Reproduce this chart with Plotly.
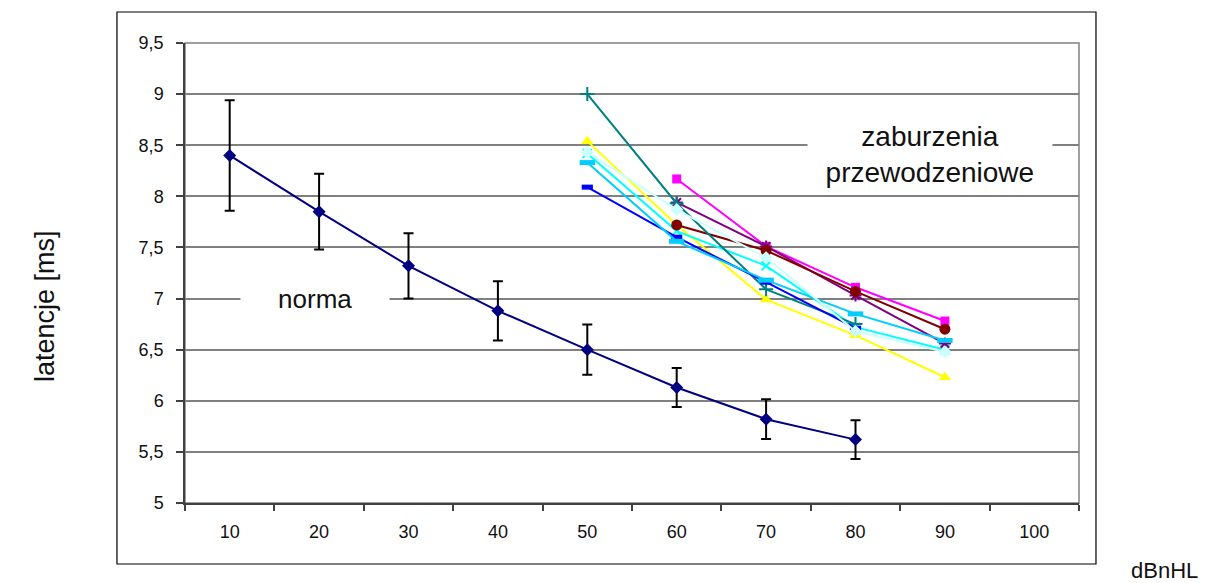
import plotly.graph_objects as go

# ---- data ----
x_norma = [10, 20, 30, 40, 50, 60, 70, 80]
y_norma = [8.40, 7.85, 7.32, 6.88, 6.50, 6.13, 5.82, 5.62]
sd_norma = [0.54, 0.37, 0.32, 0.29, 0.245, 0.19, 0.195, 0.19]

x_50_90 = [50, 60, 70, 80, 90]
x_60_90 = [60, 70, 80, 90]
x_50_80 = [50, 60, 70, 80]

y_magenta = [8.17, 7.51, 7.11, 6.78]
y_yellow = [8.54, 7.72, 6.99, 6.64, 6.23]
y_cyan = [8.42, 7.66, 7.32, 6.72, 6.50]
y_purple = [7.94, 7.51, 7.03, 6.56]
y_maroon = [7.72, 7.47, 7.07, 6.70]
y_teal = [9.00, 7.93, 7.09, 6.75]
y_blue = [8.09, 7.60, 7.16, 6.71]
y_skyblue = [8.33, 7.56, 7.18, 6.85, 6.59]
y_lightcyan = [8.43, 7.87, 7.40, 6.68, 6.48]

x_ticks = [10, 20, 30, 40, 50, 60, 70, 80, 90, 100]
x_bounds = [5, 15, 25, 35, 45, 55, 65, 75, 85, 95, 105]
y_ticks = [5, 5.5, 6, 6.5, 7, 7.5, 8, 8.5, 9, 9.5]

FONT = "Arial, Liberation Sans, sans-serif"
NB = "\u00a0"

fig = go.Figure()

fig.add_trace(go.Scatter(
    x=x_norma, y=y_norma, mode="lines+markers",
    line=dict(color="#000080", width=2),
    marker=dict(symbol="diamond", size=10, color="#000080"),
    error_y=dict(type="data", array=sd_norma, color="black", thickness=2, width=5),
))

def add(x, y, color, symbol, size, open_line=None):
    if open_line:
        marker = dict(symbol=symbol, size=size, color=color,
                      line=dict(color=color, width=open_line))
    else:
        marker = dict(symbol=symbol, size=size, color=color, line=dict(width=0))
    fig.add_trace(go.Scatter(x=x, y=y, mode="lines+markers",
                             line=dict(color=color, width=2), marker=marker))

add(x_60_90, y_magenta, "#FF00FF", "square", 9)
add(x_50_90, y_yellow, "#FFFF00", "triangle-up", 11)
add(x_50_90, y_cyan, "#00FFFF", "x-thin-open", 9, 2)
add(x_60_90, y_purple, "#800080", "asterisk-open", 10, 2)
add(x_60_90, y_maroon, "#800000", "circle", 11)
add(x_50_80, y_teal, "#008080", "cross-thin-open", 10, 2)
add(x_50_80, y_blue, "#0000FF", "line-ew-open", 8, 5)
add(x_50_90, y_skyblue, "#00CCFF", "line-ew-open", 11, 5)
add(x_50_90, y_lightcyan, "#CCFFFF", "diamond", 10)

fig.update_layout(
    width=1216, height=583,
    margin=dict(l=185, r=137, t=43, b=80),
    paper_bgcolor="white", plot_bgcolor="white",
    showlegend=False,
    separators=",.",
    font=dict(family=FONT, size=18, color="#111111"),
    xaxis=dict(
        range=[5, 105], tickmode="array", tickvals=x_ticks,
        ticks="", showgrid=False, zeroline=False,
        showline=True, linecolor="#404040", linewidth=1.5,
        tickfont=dict(size=18, family=FONT),
        ticklabelstandoff=12,
        minor=dict(tickmode="array", tickvals=x_bounds, ticks="outside",
                   ticklen=6, tickwidth=1.5, tickcolor="#404040", showgrid=False),
    ),
    yaxis=dict(
        range=[5, 9.5], tickmode="array", tickvals=y_ticks,
        ticks="outside", ticklen=7, tickwidth=1.5, tickcolor="#404040",
        showgrid=True, gridcolor="#808080", gridwidth=1.5,
        zeroline=False, showline=True, linecolor="#404040", linewidth=1.5,
        tickfont=dict(size=18, family=FONT),
        ticklabelstandoff=9,
    ),
    shapes=[
        dict(type="rect", xref="paper", yref="paper", x0=0, x1=1, y0=0, y1=1,
             line=dict(color="#808080", width=1.5), layer="below"),
        dict(type="rect", xref="paper", yref="paper",
             x0=-0.0761, x1=1.019, y0=-0.1326, y1=1.0674,
             line=dict(color="black", width=1.2), layer="below"),
    ],
    annotations=[
        dict(x=19.5, y=7.0, xref="x", yref="y",
             text=NB * 5 + "norma" + NB * 5,
             showarrow=False, bgcolor="white", xanchor="center", yanchor="middle",
             font=dict(size=26, family=FONT, color="#111111")),
        dict(x=88.3, y=8.41, xref="x", yref="y",
             text=NB * 2 + "zaburzenia" + NB * 2 + "<br>" + NB * 2 + "przewodzeniowe" + NB * 2,
             showarrow=False, bgcolor="white", borderpad=2, xanchor="center", yanchor="middle",
             font=dict(size=28, family=FONT, color="#111111")),
        dict(x=-0.1566, y=0.428, xref="paper", yref="paper", text="latencje [ms]",
             textangle=-90, showarrow=False, xanchor="center", yanchor="middle",
             font=dict(size=27, family=FONT, color="#111111")),
        dict(x=1.096, y=-0.1457, xref="paper", yref="paper", text="dBnHL",
             showarrow=False, xanchor="center", yanchor="middle",
             font=dict(size=22, family=FONT, color="#111111")),
    ],
)

fig.write_html("out.html")
